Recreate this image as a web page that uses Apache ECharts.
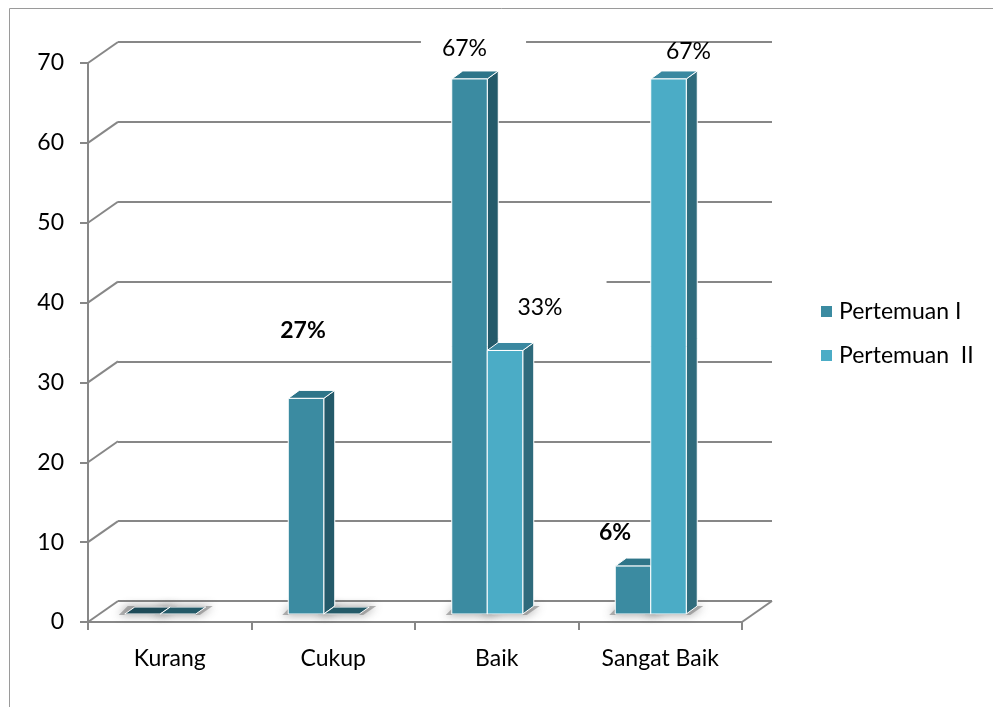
<!DOCTYPE html>
<html><head><meta charset="utf-8">
<script src="https://cdn.jsdelivr.net/npm/echarts@6/dist/echarts.min.js"></script>
<style>html,body{margin:0;padding:0;background:#fff}#c{width:993px;height:707px}</style>
</head><body><div id="c"></div>
<script>
// ---- data ----
const categories = ['Kurang', 'Cukup', 'Baik', 'Sangat Baik'];
const seriesNames = ['Pertemuan I', 'Pertemuan  II'];
const pertemuan1 = [0, 27, 67, 6];
const pertemuan2 = [0, 0, 33, 67];
const yTicks = [0, 10, 20, 30, 40, 50, 60, 70];

// ---- styles ----
const FONT = 'Lato, "Open Sans", sans-serif';
const FS = 23;
const GRID = '#878787';
const DEPTH = { dx: 30, dy: -21 };
const BAR = { w: 35.5, shift: -9.5, inset: 8, sideDx: 11, sideDy: 8 };
const colors = [
  { front: '#3B8BA1', side: '#245A6A', top: '#2E7589', flat: '#1E4B58' },
  { front: '#4BACC6', side: '#2F6B7C', top: '#3A88A0', flat: '#245A68' }
];
const labelStyle = [
  [null, { dx: -3, dy: -68, bold: true }, { dx: 4, dy: -30, bg: [4, 39, 4, 21] }, { dx: -18, dy: -34, bold: true }],
  [null, null, { dx: 35, dy: -43, bg: [28, 44, 8, 44] }, { dx: 20, dy: -27 }]
];
const allSeries = [pertemuan1, pertemuan2];

function barRender(s) {
  return function (params, api) {
    const i = api.value(0), v = api.value(1);
    const base = api.coord([i, 0]);
    const topP = api.coord([i, v]);
    const left = base[0] + BAR.shift - BAR.w + s * BAR.w;
    const right = left + BAR.w;
    const yb = base[1] - BAR.inset;
    const yt = topP[1] - BAR.inset;
    const dx = BAR.sideDx, dy = BAR.sideDy;
    const c = colors[s];
    const edge = { stroke: '#ffffff', lineWidth: 1 };
    const children = [];
    // soft floor shadow (footprint halo)
    children.push({
      type: 'polygon', z2: -10,
      shape: { points: [[left - 6, yb + 1], [right + 4, yb + 1], [right + dx + 6, yb - dy], [left + dx - 8, yb - dy]] },
      style: { fill: 'rgba(120,120,120,0.55)', shadowBlur: 10, shadowColor: 'rgba(70,70,70,0.9)', shadowOffsetX: 0, shadowOffsetY: 0 }
    });
    if (v === 0) {
      children.push({
        type: 'polygon', z2: 10 + s,
        shape: { points: [[left, yb], [right, yb], [right + dx - 1, yb - dy + 1], [left + dx - 1, yb - dy + 1]] },
        style: Object.assign({ fill: c.flat }, edge)
      });
    } else {
      children.push({
        type: 'polygon', z2: 10 + s,
        shape: { points: [[right, yt], [right + dx, yt - dy], [right + dx, yb - dy], [right, yb]] },
        style: Object.assign({ fill: c.side }, edge)
      });
      children.push({
        type: 'polygon', z2: 10 + s,
        shape: { points: [[left, yt], [right, yt], [right + dx, yt - dy], [left + dx, yt - dy]] },
        style: Object.assign({ fill: c.top }, edge)
      });
      children.push({
        type: 'rect', z2: 10 + s,
        shape: { x: left, y: yt, width: BAR.w, height: yb - yt },
        style: Object.assign({ fill: c.front }, edge)
      });
      const ls = labelStyle[s][i];
      if (ls) {
        const st = {
          text: v + '%', x: (left + right) / 2 + ls.dx, y: yt + ls.dy,
          align: 'center', verticalAlign: 'middle',
          font: (ls.bold ? 'bold ' : '') + FS + 'px ' + FONT, fill: '#000'
        };
        if (ls.bg) { st.backgroundColor = '#fff'; st.padding = ls.bg; }
        children.push({ type: 'text', z2: 5, style: st });
      }
    }
    return { type: 'group', children: children };
  };
}

function connRender(params, api) {
  const y = api.coord([0, api.value(1)])[1];
  const x0 = params.coordSys.x;
  return { type: 'line', shape: { x1: x0, y1: y, x2: x0 + DEPTH.dx, y2: y + DEPTH.dy }, style: { stroke: GRID, lineWidth: 2 } };
}
function floorRightRender(params, api) {
  const y = api.coord([0, 0])[1];
  const x0 = params.coordSys.x + params.coordSys.width;
  return { type: 'line', shape: { x1: x0, y1: y, x2: x0 + DEPTH.dx, y2: y + DEPTH.dy }, style: { stroke: GRID, lineWidth: 2 } };
}

const chart = echarts.init(document.getElementById('c'), null, { renderer: 'canvas' });
const series = [
  { type: 'custom', name: '_conn', coordinateSystem: 'cartesian2d', xAxisIndex: 0, yAxisIndex: 0, z: 1, silent: true,
    data: yTicks.map(v => [0, v]), renderItem: connRender },
  { type: 'custom', name: '_floor', coordinateSystem: 'cartesian2d', xAxisIndex: 0, yAxisIndex: 0, z: 1, silent: true,
    data: [[0, 0]], renderItem: floorRightRender }
];
allSeries.forEach((vals, s) => {
  series.push({
    type: 'custom', name: seriesNames[s], coordinateSystem: 'cartesian2d', xAxisIndex: 0, yAxisIndex: 0, z: 2,
    itemStyle: { color: colors[s].front },
    data: vals.map((v, i) => [i, v]), renderItem: barRender(s)
  });
});

chart.setOption({
  animation: false,
  backgroundColor: '#fff',
  textStyle: { fontFamily: FONT },
  graphic: [{ type: 'rect', left: 7, top: 6, shape: { width: 1100, height: 800 }, style: { fill: 'none', stroke: '#9a9a9a', lineWidth: 1 }, silent: true }],
  grid: [
    { left: 88, top: 63, width: 654, height: 559 },
    { left: 118, top: 42, width: 654, height: 559 }
  ],
  xAxis: [
    { type: 'category', gridIndex: 0, data: categories, boundaryGap: true,
      axisLine: { lineStyle: { color: GRID, width: 2 } },
      axisTick: { show: true, length: 8, interval: 0, alignWithLabel: false, lineStyle: { color: GRID, width: 2 } },
      axisLabel: { margin: 25, fontSize: FS, color: '#000', fontFamily: FONT, interval: 0 },
      splitLine: { show: false } },
    { type: 'category', gridIndex: 1, data: categories, show: false }
  ],
  yAxis: [
    { type: 'value', gridIndex: 0, min: 0, max: 70, interval: 10,
      axisLine: { show: true, lineStyle: { color: GRID, width: 2 } },
      axisTick: { show: true, length: 8, lineStyle: { color: GRID, width: 2 } },
      axisLabel: { margin: 24, fontSize: FS, color: '#000', fontFamily: FONT },
      splitLine: { show: false } },
    { type: 'value', gridIndex: 1, min: 0, max: 70, interval: 10,
      axisLine: { show: false }, axisTick: { show: false }, axisLabel: { show: false },
      splitLine: { show: true, lineStyle: { color: GRID, width: 2 } } }
  ],
  legend: {
    data: seriesNames, orient: 'vertical', left: 821, top: 300, padding: 0,
    icon: 'rect', itemWidth: 11, itemHeight: 11, itemGap: 21,
    textStyle: { fontSize: FS, color: '#000', fontFamily: FONT, lineHeight: 23, padding: [0, 0, 0, 2] }
  },
  series: series
});
</script>
</body></html>
